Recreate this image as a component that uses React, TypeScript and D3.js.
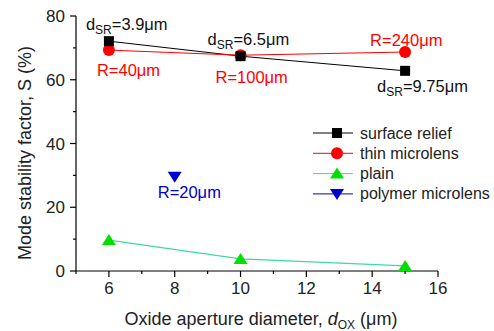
import React from 'react';
import * as d3 from 'd3';

const apertures = [6, 10, 15];
const surfaceRelief = [72.1, 67.4, 62.8];
const thinMicrolens = [69.3, 67.7, 68.7];
const plain = [9.7, 3.8, 1.6];
const polymerX = [8];
const polymerMicrolens = [29.6];

const xTicks = [6, 8, 10, 12, 14, 16];
const xMinor = [5, 7, 9, 11, 13, 15];
const yTicks = [0, 20, 40, 60, 80];
const yMinor = [10, 30, 50, 70];

const srLabels = ['3.9', '6.5', '9.75'];
const lensLabels = ['R=40μm', 'R=100μm', 'R=240μm'];
const polymerLabels = ['R=20μm'];
const legendNames = ['surface relief', 'thin microlens', 'plain', 'polymer microlens'];

const FONT = '"Liberation Sans", Arial, Helvetica, sans-serif';

const App = () => {
  const width = 494;
  const height = 331;
  const x = d3.scaleLinear().domain([5, 16]).range([76, 438]);
  const y = d3.scaleLinear().domain([0, 80]).range([271, 16]);
  const line = d3.line<[number, number]>().x(d => x(d[0])).y(d => y(d[1]));

  const pts = (vals: number[], xs = apertures) => xs.map((v, i) => [v, vals[i]] as [number, number]);

  const square = (cx: number, cy: number, color: string, k: string) => (
    <rect key={k} x={cx - 5} y={cy - 5} width={10} height={10} fill={color} />
  );
  const circle = (cx: number, cy: number, color: string, k: string) => (
    <circle key={k} cx={cx} cy={cy} r={6} fill={color} />
  );
  const triUp = (cx: number, cy: number, color: string, k: string) => (
    <path key={k} d={`M${cx},${cy - 6}L${cx + 7},${cy + 5}L${cx - 7},${cy + 5}Z`} fill={color} />
  );
  const triDown = (cx: number, cy: number, color: string, k: string) => (
    <path key={k} d={`M${cx - 7},${cy - 5}L${cx + 7},${cy - 5}L${cx},${cy + 6}Z`} fill={color} />
  );

  // label offsets from their data point
  const srOffsets = [[-23, -11], [-33, -11], [-28, 21]];
  const lensOffsets = [[-12, 26], [-25, 28], [-35, -6]];

  const legendItems = [
    { name: legendNames[0], color: '#000', line: '#000', mark: square },
    { name: legendNames[1], color: '#ff0000', line: '#ff0000', mark: circle },
    { name: legendNames[2], color: '#00e000', line: '#40d8a0', mark: triUp },
    { name: legendNames[3], color: '#0000cc', line: '#0000cc', mark: triDown },
  ];

  return (
    <svg width={width} height={height} style={{ display: 'block', position: 'absolute', left: 0, top: 0 }} fontFamily={FONT}>
      <rect width={width} height={height} fill="#fff" />
      {/* axes */}
      <g stroke="#000" strokeWidth={1.2} fill="none">
        <line x1={x(5)} x2={x(16)} y1={y(0)} y2={y(0)} />
        <line x1={x(5)} x2={x(5)} y1={y(0)} y2={y(80)} />
        {xTicks.map(t => <line key={'xt' + t} x1={x(t)} x2={x(t)} y1={y(0)} y2={y(0) + 6} />)}
        {xMinor.map(t => <line key={'xm' + t} x1={x(t)} x2={x(t)} y1={y(0)} y2={y(0) + 3} />)}
        {yTicks.map(t => <line key={'yt' + t} x1={x(5)} x2={x(5) - 6} y1={y(t)} y2={y(t)} />)}
        {yMinor.map(t => <line key={'ym' + t} x1={x(5)} x2={x(5) - 3} y1={y(t)} y2={y(t)} />)}
      </g>
      <g fontSize={17} fill="#222">
        {xTicks.map(t => (
          <text key={'xl' + t} x={x(t)} y={y(0) + 23} textAnchor="middle">{t}</text>
        ))}
        {yTicks.map(t => (
          <text key={'yl' + t} x={x(5) - 11} y={y(t) + 6} textAnchor="end">{t}</text>
        ))}
      </g>
      <g fontSize={18} fill="#222">
        <text x={261} y={325} textAnchor="middle">
          Oxide aperture diameter, <tspan fontStyle="italic">d</tspan>
          <tspan fontSize={12} dy={4}>OX</tspan>
          <tspan dy={-4}> (μm)</tspan>
        </text>
        <text transform="translate(31,153) rotate(-90)" textAnchor="middle">
          Mode stability factor, S (%)
        </text>
      </g>

      {/* series */}
      <path d={line(pts(surfaceRelief)) ?? ''} fill="none" stroke="#000" strokeWidth={1} />
      <path d={line(pts(thinMicrolens)) ?? ''} fill="none" stroke="#ff0000" strokeWidth={1} />
      <path d={line(pts(plain)) ?? ''} fill="none" stroke="#40d8a0" strokeWidth={1.2} />
      {pts(plain).map((p, i) => triUp(x(p[0]), y(p[1]), '#00e000', 'pl' + i))}
      {pts(thinMicrolens).map((p, i) => circle(x(p[0]), y(p[1]), '#ff0000', 'tm' + i))}
      {pts(surfaceRelief).map((p, i) => square(x(p[0]), y(p[1]), '#000', 'sr' + i))}
      {pts(polymerMicrolens, polymerX).map((p, i) => triDown(x(p[0]), y(p[1]), '#0000cc', 'pm' + i))}

      {/* annotations */}
      <g fontSize={16.5}>
        {apertures.map((a, i) => (
          <text key={'sra' + i} x={x(a) + srOffsets[i][0]} y={y(surfaceRelief[i]) + srOffsets[i][1]} fill="#111">
            d<tspan fontSize={12} dy={4}>SR</tspan><tspan dy={-4}>={srLabels[i]}μm</tspan>
          </text>
        ))}
        {apertures.map((a, i) => (
          <text key={'tma' + i} x={x(a) + lensOffsets[i][0]} y={y(thinMicrolens[i]) + lensOffsets[i][1]} fill="#ff0000">
            {lensLabels[i]}
          </text>
        ))}
        {polymerX.map((a, i) => (
          <text key={'pma' + i} x={x(a) - 17} y={y(polymerMicrolens[i]) + 21} fill="#0000cc">
            {polymerLabels[i]}
          </text>
        ))}
      </g>

      {/* legend */}
      <g fontSize={16}>
        {legendItems.map((it, i) => {
          const ly = 133 + i * 20.3;
          return (
            <g key={'lg' + i}>
              <line x1={313} x2={353} y1={ly} y2={ly} stroke={it.line} strokeWidth={1} />
              {it.mark(337, ly, it.color, 'lm' + i)}
              <text x={360} y={ly + 5.5} fill="#222">{it.name}</text>
            </g>
          );
        })}
      </g>
    </svg>
  );
};

export default App;
